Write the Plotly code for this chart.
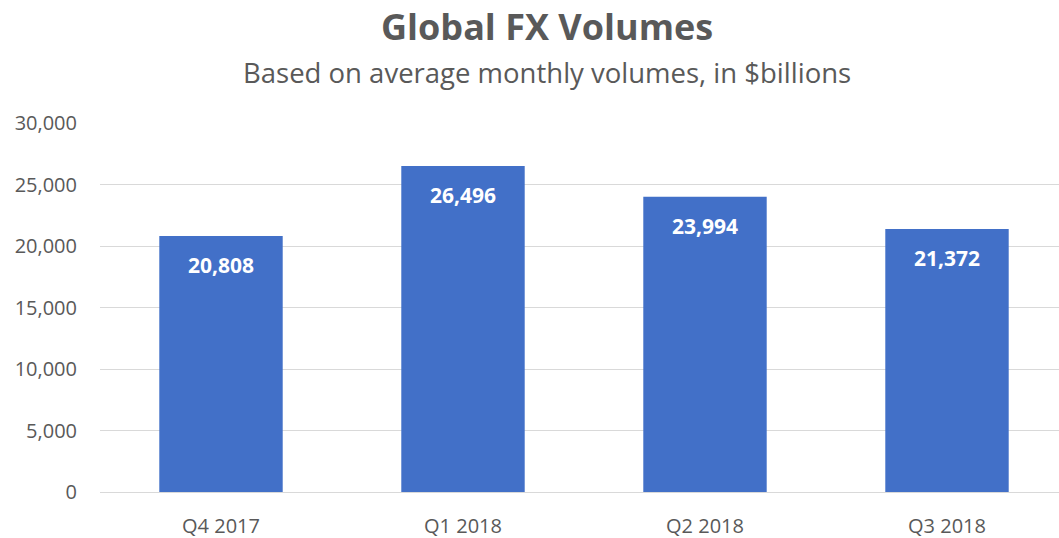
import plotly.graph_objects as go

categories = ["Q4 2017", "Q1 2018", "Q2 2018", "Q3 2018"]
volumes = [20808, 26496, 23994, 21372]
y_ticks = [0, 5000, 10000, 15000, 20000, 25000, 30000]

FONT = "Open Sans"
GRAY = "#595959"

fig = go.Figure()
fig.add_trace(go.Bar(
    x=categories,
    y=volumes,
    width=0.51,
    marker=dict(color="#4270C8", line=dict(width=0)),
    hoverinfo="x+y",
))

annotations = [
    dict(x=c, y=v, xref="x", yref="y", text=f"<b>{v:,}</b>", showarrow=False,
         yshift=-29, font=dict(family=FONT, size=21, color="white"))
    for c, v in zip(categories, volumes)
]
title_x = (547 - 100) / 959
annotations += [
    dict(x=title_x, y=(492 - 26) / 369, xref="paper", yref="paper", xanchor="center",
         yanchor="middle", text="<b>Global FX Volumes</b>", showarrow=False,
         font=dict(family=FONT, size=36, color=GRAY)),
    dict(x=title_x, y=(492 - 72) / 369, xref="paper", yref="paper", xanchor="center",
         yanchor="middle", text="Based on average monthly volumes, in $billions",
         showarrow=False, font=dict(family=FONT, size=27.5, color=GRAY)),
]

fig.update_layout(
    width=1059, height=538,
    margin=dict(l=100, r=0, t=123, b=46),
    paper_bgcolor="white", plot_bgcolor="white",
    showlegend=False,
    annotations=annotations,
    bargap=0.49,
)
fig.update_xaxes(
    range=[-0.5, -0.5 + 959 / 242],
    showgrid=False, showline=True, linecolor="#D9D9D9", linewidth=1,
    ticks="", tickfont=dict(family=FONT, size=20, color=GRAY),
    ticklabelstandoff=16,
)
fig.update_yaxes(
    range=[0, 30000], tickvals=y_ticks, tickformat=",",
    showgrid=True, gridcolor="#D9D9D9", gridwidth=1,
    zeroline=False, showline=False, ticks="",
    tickfont=dict(family=FONT, size=20, color=GRAY),
    ticklabelstandoff=22,
)

fig.write_html(
    "out.html",
    config={"displayModeBar": False},
    post_script="document.body.style.margin='0';document.body.style.overflow='hidden';",
)
